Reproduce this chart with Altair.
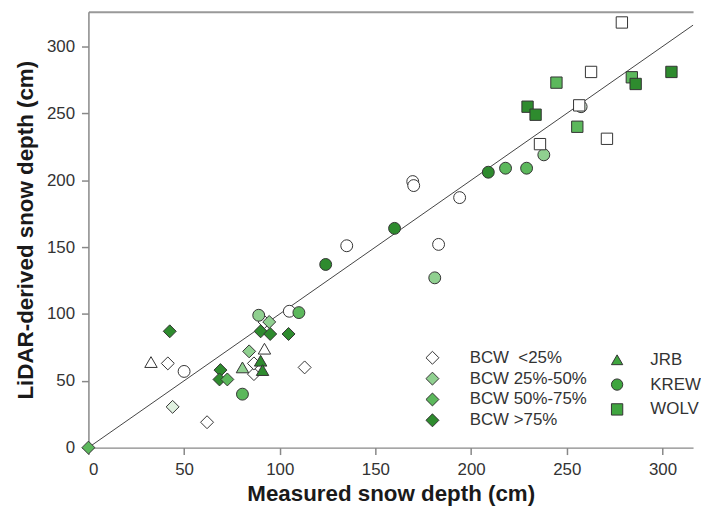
import altair as alt
import pandas as pd

# ---- data ----
# classes: w = BCW <25%, l = 25%-50%, m = 50%-75%, d = >75%, p = pale
bcw_x = [0, 42.5, 41.5, 44, 62, 69, 68.5, 72.6, 84, 86.5, 86.5, 92, 90, 95, 94.5, 104.6, 113]
bcw_y = [0, 87, 63, 30.5, 19, 58, 51, 51, 72, 55, 63, 94, 87, 85, 94, 85, 60]
bcw_c = ["m", "d", "w", "p", "w", "d", "d", "m", "l", "w", "w", "w", "d", "d", "l", "d", "w"]

jrb_x = [32.7, 92, 80.5, 90, 91]
jrb_y = [64, 74, 60, 65, 58]
jrb_c = ["w", "w", "l", "d", "d"]

krew_x = [50, 80.5, 89, 105, 110, 124, 135, 160, 169.5, 170, 183, 181, 194, 209, 218, 229, 238, 257.5]
krew_y = [57, 40, 99, 102, 101, 137, 151, 164, 199, 196, 152, 127, 187, 206, 209, 209, 219, 255]
krew_c = ["w", "m", "l", "w", "m", "d", "w", "d", "w", "w", "w", "l", "w", "d", "m", "m", "l", "p"]

wolv_x = [236, 229.5, 233.7, 244.6, 255.5, 256.5, 262.7, 271, 278.8, 284, 286, 304.7]
wolv_y = [227, 255, 249, 273, 240, 256, 281, 231, 318, 277, 272, 281]
wolv_c = ["w", "d", "d", "m", "m", "w", "w", "w", "w", "m", "d", "d"]

line_x = [0, 330]
line_y = [0, 330]

tick_vals = [0, 50, 100, 150, 200, 250, 300]

cls_keys = ["w", "l", "m", "d", "p"]
cls_labels = ["BCW\u00a0 <25%", "BCW 25%-50%", "BCW 50%-75%", "BCW >75%", "pale"]
cls_colors = ["#ffffff", "#90d090", "#5cb85c", "#2e8b2e", "#e0f1e0"]

sites = ["BCW", "JRB", "KREW", "WOLV"]
site_shapes = ["diamond", "triangle-up", "circle", "square"]
# size scale listed in another order so that its legend is not merged with the shape legend
size_sites = ["WOLV", "KREW", "JRB", "BCW"]
size_vals = [130, 170, 170, 230]

# ---- tables ----
rows = []
for site, xs_, ys_, cs_ in [("BCW", bcw_x, bcw_y, bcw_c), ("JRB", jrb_x, jrb_y, jrb_c),
                            ("KREW", krew_x, krew_y, krew_c), ("WOLV", wolv_x, wolv_y, wolv_c)]:
    for a, b, c in zip(xs_, ys_, cs_):
        rows.append({"site": site, "mx": a, "my": b, "cls": cls_labels[cls_keys.index(c)]})
df = pd.DataFrame(rows)
line_df = pd.DataFrame({"mx": line_x, "my": line_y})

FONT = "Liberation Sans"
xs = alt.Scale(domain=[0, 316], nice=False, zero=False)
ys = alt.Scale(domain=[0, 326], nice=False, zero=False)

y_axis = alt.Axis(values=tick_vals, title="LiDAR-derived snow depth (cm)", titlePadding=9, labelPadding=7)

line = alt.Chart(line_df).mark_line(color="#444", strokeWidth=1, clip=True).encode(
    x=alt.X("mx:Q", scale=xs, axis=alt.Axis(orient="top", labels=False, ticks=False, title=None,
                                            domainColor="#999", domainWidth=2, grid=False)),
    y=alt.Y("my:Q", scale=ys, axis=y_axis),
)

pts = alt.Chart(df).transform_calculate(site_sz="datum.site").mark_point(
    filled=True, stroke="#333", strokeWidth=1, opacity=1
).encode(
    x=alt.X("mx:Q", scale=xs, axis=alt.Axis(values=tick_vals, title="Measured snow depth (cm)",
                                            titlePadding=5, labelPadding=7)),
    y=alt.Y("my:Q", scale=ys, axis=y_axis),
    fill=alt.Fill("cls:N", scale=alt.Scale(domain=cls_labels, range=cls_colors),
                  legend=alt.Legend(values=cls_labels[:4], orient="none", legendX=338, legendY=340,
                                    title=None, symbolType="diamond", symbolSize=170,
                                    symbolStrokeColor="#333", symbolStrokeWidth=1,
                                    labelFont=FONT, labelFontSize=17, labelColor="#333",
                                    labelOffset=29, rowPadding=2, padding=0)),
    shape=alt.Shape("site:N", scale=alt.Scale(domain=sites, range=site_shapes),
                    legend=alt.Legend(values=["JRB", "KREW", "WOLV"], orient="none", legendX=524,
                                      legendY=342, title=None, symbolSize=130,
                                      symbolFillColor="#3fa53f", symbolStrokeColor="#333",
                                      symbolStrokeWidth=1, labelFont=FONT, labelFontSize=17,
                                      labelColor="#333", labelOffset=25, rowPadding=7, padding=0)),
    size=alt.Size("site_sz:N", scale=alt.Scale(domain=size_sites, range=size_vals), legend=None),
)

chart = alt.layer(line, pts).resolve_axis(x="independent").properties(
    width=609, height=439,
    padding={"left": 6, "top": 2, "right": 0, "bottom": 0},
).configure_axis(
    labelFont=FONT, labelFontSize=17, labelColor="#333",
    titleFont=FONT, titleFontSize=22.5, titleFontWeight="bold", titleColor="#1a1a1a",
    domainColor="#888", domainWidth=1.5, tickColor="#888", tickWidth=1.5, tickSize=7, grid=False,
).configure_view(stroke=None)

chart.save("out.html", embed_options={"renderer": "svg", "actions": False})
